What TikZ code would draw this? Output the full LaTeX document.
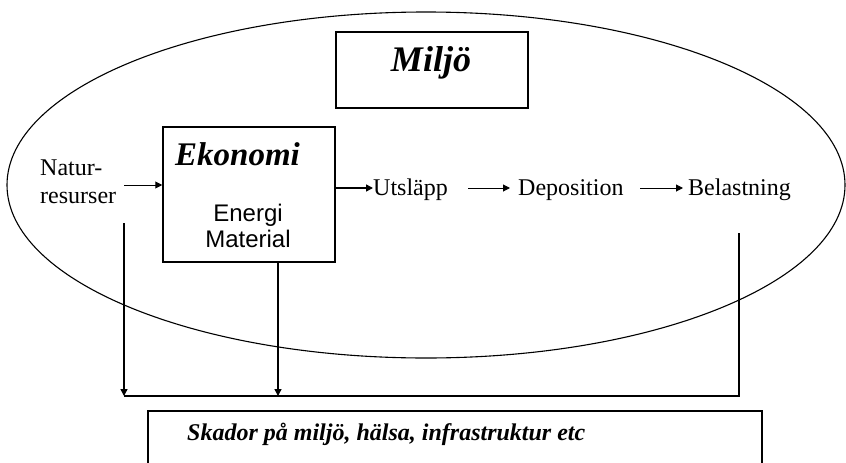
\documentclass[tikz,border=0pt]{standalone}
\usepackage{fontspec}
\setmainfont{Liberation Serif}
\newfontfamily\arialfont{Liberation Sans}
\usetikzlibrary{shapes.geometric,arrows.meta}
\begin{document}
\begin{tikzpicture}[x=1pt,y=-1pt,
  boxline/.style={draw,line width=1.5pt},
  arr/.style={line width=1pt,-{Triangle[length=7pt,width=7pt]}},
  thickarr/.style={line width=1.5pt,-{Triangle[length=7pt,width=7pt]}},
  link/.style={line width=1.5pt},
  lbl/.style={inner sep=0pt,font=\fontsize{24}{28}\selectfont},
  title/.style={inner sep=0pt,font=\fontsize{33}{38}\selectfont\bfseries\itshape}]
\clip (0,0) rectangle (846,463);
\fill[white] (0,0) rectangle (846,463);
% environment ellipse
\node[ellipse,draw,line width=1.1pt,minimum width=838pt,minimum height=346pt,inner sep=0pt] (env) at (426,185) {};
% boxes
\node[boxline,minimum width=192pt,minimum height=76pt,inner sep=0pt] (miljo) at (432,70) {};
\node[boxline,minimum width=172pt,minimum height=135pt,inner sep=0pt] (eko) at (249,194.5) {};
\node[boxline,minimum width=614pt,minimum height=80pt,inner sep=0pt] (skbox) at (455,451) {};
% texts
\node[title,font=\fontsize{36}{40}\selectfont\bfseries\itshape,anchor=base] (miljot) at (431,71) {Miljö};
\node[title,anchor=base] (ekot) at (237.5,165) {Ekonomi};
\node[lbl,font=\fontsize{24}{28}\selectfont\arialfont,anchor=base] (energi) at (248,221) {Energi};
\node[lbl,font=\fontsize{24}{28}\selectfont\arialfont,anchor=base] (material) at (248,247) {Material};
\node[lbl,anchor=base west] (natur) at (40,175) {Natur-};
\node[lbl,anchor=base west] (resurser) at (40,203) {resurser};
\node[lbl,anchor=base west] (utslapp) at (373,195) {Utsläpp};
\node[lbl,anchor=base west] (depo) at (518,195) {Deposition};
\node[lbl,anchor=base west] (belast) at (688,195) {Belastning};
\node[lbl,font=\fontsize{24}{28}\selectfont\bfseries\itshape,anchor=base west] (skador) at (187,440) {Skador på miljö, hälsa, infrastruktur etc};
% coordinates
\coordinate (nStart) at (124,185);
\coordinate (a2s) at (468,188);
\coordinate (a2e) at (510,188);
\coordinate (a3s) at (640,188);
\coordinate (a3e) at (683,188);
\coordinate (lTop) at (124,223);
\coordinate (lBot) at (124,396);
\coordinate (mBot) at (278,396);
\coordinate (rTop) at (739,233);
\coordinate (rBot) at (739,396);
% connectors
\draw[arr] (nStart) -- (eko.west |- nStart);
\draw[thickarr] (eko.east |- a2s) -- (utslapp.west |- a2s);
\draw[arr] (a2s) -- (a2e);
\draw[arr] (a3s) -- (a3e);
\draw[thickarr] (lTop) -- (lBot);
\draw[thickarr] (eko.south -| mBot) -- (mBot);
\draw[link] (rTop) -- (rBot) -- (lBot);
\end{tikzpicture}
\end{document}
